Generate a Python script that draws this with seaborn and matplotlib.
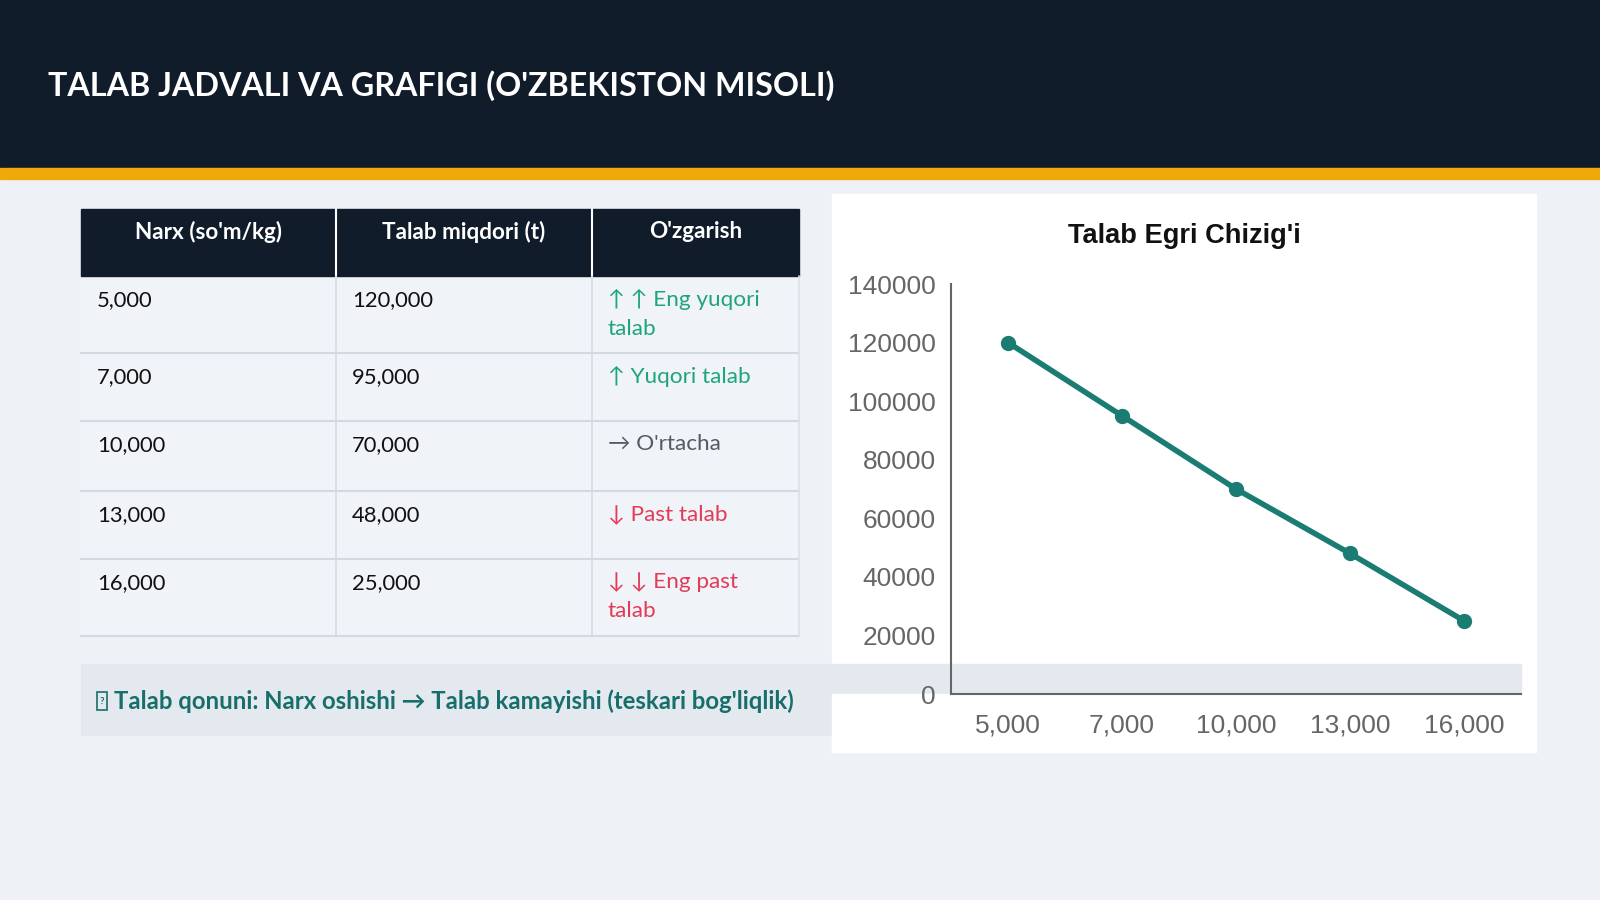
import matplotlib
matplotlib.use("Agg")
import matplotlib.pyplot as plt
from matplotlib.patches import Rectangle
from matplotlib.ticker import FixedLocator
import seaborn as sb
import pandas as pd

# data
prices = ["5,000", "7,000", "10,000", "13,000", "16,000"]
demand = [120000, 95000, 70000, 48000, 25000]
demand_labels = ["120,000", "95,000", "70,000", "48,000", "25,000"]
changes = ["↑ ↑ Eng yuqori\ntalab", "↑ Yuqori talab", "→ O'rtacha", "↓ Past talab", "↓ ↓ Eng past\ntalab"]
change_colors = ["#1fa57c", "#1fa57c", "#555b63", "#e23b58", "#e23b58"]
headers = ["Narx (so'm/kg)", "Talab miqdori (t)", "O'zgarish"]
note = "Talab qonuni: Narx oshishi → Talab kamayishi (teskari bog'liqlik)"
y_ticks = [0, 20000, 40000, 60000, 80000, 100000, 120000, 140000]

sb.set_style("white")
plt.rcParams["font.family"] = ["Lato", "DejaVu Sans"]

fig = plt.figure(figsize=(16, 9), dpi=100)
fig.patch.set_facecolor("#eef2f6")

# background canvas in pixel coords
bg = fig.add_axes([0, 0, 1, 1])
bg.set_xlim(0, 1600)
bg.set_ylim(900, 0)
bg.axis("off")

bg.add_patch(Rectangle((0, 0), 1600, 168, color="#111c2b", zorder=1))
bg.add_patch(Rectangle((0, 168), 1600, 11, color="#eeaa0a", zorder=1))
bg.text(48, 86, "TALAB JADVALI VA GRAFIGI (O'ZBEKISTON MISOLI)", color="white",
        fontsize=23.2, fontweight="bold", va="center", ha="left", zorder=2)

# chart card
bg.add_patch(Rectangle((832, 194), 704, 558, color="white", zorder=1))

# note box
bg.add_patch(Rectangle((81, 664), 1440, 71, color="#e3e9ee", zorder=2))
bg.add_patch(Rectangle((832, 694), 704, 58, color="white", zorder=3))
# the bulb emoji has no installed glyph: drawn as the empty box shown in the reference
bg.add_patch(Rectangle((97, 692), 10, 18, fill=False, edgecolor="#176e6c", lw=1.2, zorder=4))
bg.text(102, 701, "?", color="#176e6c", fontsize=7, fontweight="bold", ha="center",
        va="center", zorder=4)
bg.text(114, 701, note, color="#176e6c", fontsize=17.2, fontweight="bold",
        va="center", ha="left", zorder=4)

# table
col_x = [81, 336, 592, 799]
row_y = [209, 276, 353, 421, 491, 559, 636]
bg.add_patch(Rectangle((col_x[0], row_y[1]), col_x[-1] - col_x[0], row_y[-1] - row_y[1],
                       color="#f0f3f7", zorder=2))
for i, h in enumerate(headers):
    bg.add_patch(Rectangle((col_x[i], row_y[0]), col_x[i + 1] - col_x[i], row_y[1] - row_y[0],
                           color="#111c2b", zorder=2))
    bg.text((col_x[i] + col_x[i + 1]) / 2, 232, h, color="white", fontsize=16.2,
            fontweight="bold", ha="center", va="center", zorder=4)
for x in col_x[1:-1]:
    bg.plot([x, x], [row_y[0], row_y[-1]], color="white", lw=1.5, zorder=3)
    bg.plot([x, x], [row_y[1], row_y[-1]], color="#d3d9e0", lw=1.2, zorder=3)
for y in row_y[2:]:
    bg.plot([col_x[0], col_x[-1]], [y, y], color="#d3d9e0", lw=1.5, zorder=3)
bg.plot([col_x[-1], col_x[-1]], [row_y[1], row_y[-1]], color="#dde2e8", lw=1.2, zorder=3)

for r in range(len(prices)):
    ty = row_y[r + 1] + 24
    bg.text(col_x[0] + 16, ty, prices[r], fontsize=15.8, color="#111111", va="center", zorder=4)
    bg.text(col_x[1] + 16, ty, demand_labels[r], fontsize=15.8, color="#111111", va="center", zorder=4)
    bg.text(col_x[2] + 16, ty - 11, changes[r], fontsize=16.2, color=change_colors[r],
            va="top", linespacing=1.55, zorder=4)

# chart
ax = fig.add_axes([951 / 1600, 1 - 694 / 900, 570 / 1600, 410 / 900])
ax.patch.set_alpha(0)
df = pd.DataFrame({"narx": prices, "talab": demand})
sb.pointplot(data=df, x="narx", y="talab", order=prices, color="#1b7c74",
             markersize=8, linewidth=4, ax=ax)
ax.set_xlim(-0.5, len(prices) - 0.5)
ax.set_ylim(0, 140000)
ax.set_yticks(y_ticks)
ax.set_yticklabels([str(v) for v in y_ticks])
ax.xaxis.set_minor_locator(FixedLocator([i - 0.5 for i in range(len(prices) + 1)]))
ax.tick_params(axis="x", which="major", length=0, pad=14, labelsize=19, labelcolor="#666666")
ax.tick_params(axis="x", which="minor", length=7, width=1.5, color="#666666")
ax.tick_params(axis="y", length=7, width=1.5, color="#666666", pad=4, labelsize=19, labelcolor="#666666")
for lab in ax.get_xticklabels() + ax.get_yticklabels():
    lab.set_fontfamily(["Liberation Sans", "DejaVu Sans"])
ax.set_xlabel("")
ax.set_ylabel("")
sb.despine(ax=ax)
for s in ["left", "bottom"]:
    ax.spines[s].set_color("#666666")
    ax.spines[s].set_linewidth(1.5)

fig.text(1184 / 1600, 1 - 236 / 900, "Talab Egri Chizig'i", fontsize=19.6, fontweight="bold",
         color="#111111", ha="center", va="center", family=["Liberation Sans", "DejaVu Sans"])

fig.savefig("out.png", dpi=100, facecolor=fig.get_facecolor())
